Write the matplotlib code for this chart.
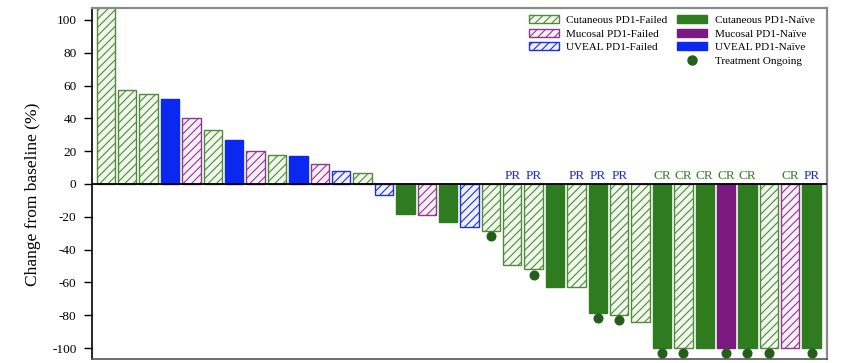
import matplotlib
matplotlib.use("Agg")
import matplotlib.pyplot as plt
from matplotlib.patches import Patch
from matplotlib.lines import Line2D

plt.rcParams['font.family'] = ['Liberation Serif', 'DejaVu Serif']
plt.rcParams['axes.unicode_minus'] = False
plt.rcParams['hatch.linewidth'] = 0.8

# ---- data ----
values = [110, 57, 55, 52, 40, 33, 27, 20, 17.5, 17, 12, 8, 6.5,
          -7, -18.5, -19, -23, -26, -28.5, -49.5, -52, -62.5, -63,
          -78.5, -80, -84, -100, -100, -100, -100, -100, -100, -100, -100]
groups = ['CF', 'CF', 'CF', 'UN', 'MF', 'CF', 'UN', 'MF', 'CF', 'UN', 'MF', 'UF', 'CF',
          'UF', 'CN', 'MF', 'CN', 'UF', 'CF', 'CF', 'CF', 'CN', 'CF',
          'CN', 'CF', 'CF', 'CN', 'CF', 'CN', 'MN', 'CN', 'CF', 'MF', 'CN']
responses = ['', '', '', '', '', '', '', '', '', '', '', '', '',
             '', '', '', '', '', '', 'PR', 'PR', '', 'PR',
             'PR', 'PR', '', 'CR', 'CR', 'CR', 'CR', 'CR', '', 'CR', 'PR']
ongoing = [0, 0, 0, 0, 0, 0, 0, 0, 0, 0, 0, 0, 0,
           0, 0, 0, 0, 0, 1, 0, 1, 0, 0,
           1, 1, 0, 1, 1, 0, 1, 1, 1, 0, 1]
group_labels = {'CF': 'Cutaneous PD1-Failed', 'MF': 'Mucosal PD1-Failed', 'UF': 'UVEAL PD1-Failed',
                'CN': 'Cutaneous PD1-Naïve', 'MN': 'Mucosal PD1-Naïve', 'UN': 'UVEAL PD1-Naïve'}
yticks = [-100, -80, -60, -40, -20, 0, 20, 40, 60, 80, 100]

# ---- styles ----
GREEN = '#2e7b20'
PURPLE = '#7a1a80'
BLUE = '#0a28f0'
DOT = '#245e1a'
styles = {
    'CF': dict(facecolor='#f1f8ec', edgecolor='#4f8a3c', hatch='////'),
    'MF': dict(facecolor='#fbeefb', edgecolor='#8a3a8a', hatch='////'),
    'UF': dict(facecolor='#eef0ff', edgecolor='#2030e0', hatch='////'),
    'CN': dict(facecolor=GREEN, edgecolor=GREEN, hatch=None),
    'MN': dict(facecolor=PURPLE, edgecolor=PURPLE, hatch=None),
    'UN': dict(facecolor=BLUE, edgecolor=BLUE, hatch=None),
}
resp_color = {'PR': '#1a2ad0', 'CR': '#3a7a2a'}

fig = plt.figure(figsize=(8.5, 3.63), dpi=100)
ax = fig.add_axes([0.108, 0.011, 0.865, 0.967])

for i, (v, g) in enumerate(zip(values, groups)):
    st = styles[g]
    ax.bar(i, v, width=0.86, facecolor=st['facecolor'], edgecolor=st['edgecolor'],
           hatch=st['hatch'], linewidth=1.0, zorder=2)

for i, (v, r, o) in enumerate(zip(values, responses, ongoing)):
    if r:
        ax.text(i, 1.3, r, ha='center', va='bottom', fontsize=9.5,
                color=resp_color[r], zorder=4)
    if o:
        ax.plot(i, v - 3.2, 'o', color=DOT, markersize=6.2, zorder=4, clip_on=False)

ax.axhline(0, color='black', lw=1.3, zorder=3)

ax.set_xlim(-0.66, len(values) - 0.28)
ax.set_ylim(-106.7, 107.3)
ax.set_yticks(yticks)
ax.set_yticklabels([str(t) for t in yticks], fontsize=9.5)
ax.set_xticks([])
ax.tick_params(axis='y', direction='out', length=6, width=1, pad=5)
ax.set_ylabel('Change from baseline (%)', fontsize=12.5)
ax.yaxis.set_label_coords(-0.069, 0.47)

for s in ['top', 'right']:
    ax.spines[s].set_color('#8a8a8a')
    ax.spines[s].set_linewidth(1.6)
ax.spines['bottom'].set_color('#555555')
ax.spines['bottom'].set_linewidth(1.2)
ax.spines['left'].set_color('black')
ax.spines['left'].set_linewidth(1.2)

handles = []
labels = []
for g in ['CF', 'MF', 'UF']:
    st = styles[g]
    handles.append(Patch(facecolor=st['facecolor'], edgecolor=st['edgecolor'], hatch=st['hatch'], lw=1.0))
    labels.append(group_labels[g])
handles.append(Patch(facecolor='none', edgecolor='none'))
labels.append(' ')
for g in ['CN', 'MN', 'UN']:
    st = styles[g]
    handles.append(Patch(facecolor=st['facecolor'], edgecolor=st['edgecolor'], lw=1.0))
    labels.append(group_labels[g])
handles.append(Line2D([], [], marker='o', ls='none', color=DOT, markersize=6.5))
labels.append('Treatment Ongoing')

leg = ax.legend(handles, labels, ncol=2, loc='upper right', bbox_to_anchor=(0.992, 0.998),
                frameon=False, fontsize=8, handlelength=2.7, handleheight=0.72,
                labelspacing=0.33, columnspacing=0.9, handletextpad=0.65, borderaxespad=0.2)

fig.savefig('out.png', dpi=100)
